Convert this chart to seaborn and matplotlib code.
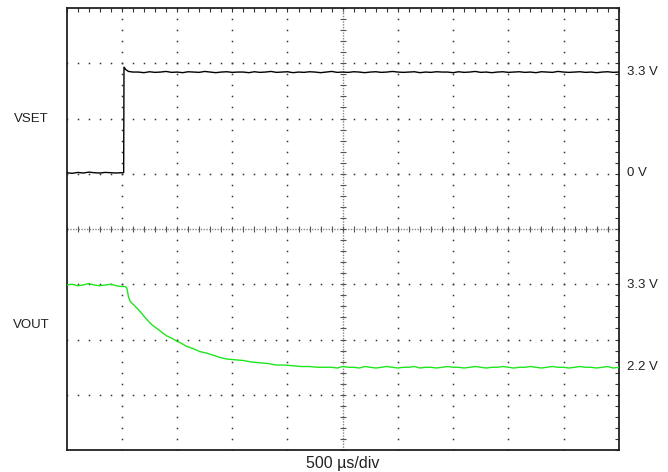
import numpy as np
import matplotlib
matplotlib.use("Agg")
import matplotlib.pyplot as plt
import matplotlib.transforms as mtransforms
import seaborn as sns

sns.set_style("white")
plt.rcParams['font.family'] = ['Liberation Sans', 'DejaVu Sans']

# --- scope capture (time in us, volts) ---
vset_t = [0, 50, 100, 150, 200, 250, 300, 350, 400, 450, 490, 516, 519, 535, 560, 600,
          650, 700, 750, 800, 850, 900, 950, 1000, 1050, 1100,
          1150, 1200, 1250, 1300, 1350, 1400, 1450, 1500, 1550, 1600,
          1650, 1700, 1750, 1800, 1850, 1900, 1950, 2000, 2050, 2100,
          2150, 2200, 2250, 2300, 2350, 2400, 2450, 2500, 2550, 2600,
          2650, 2700, 2750, 2800, 2850, 2900, 2950, 3000, 3050, 3100,
          3150, 3200, 3250, 3300, 3350, 3400, 3450, 3500, 3550, 3600,
          3650, 3700, 3750, 3800, 3850, 3900, 3950, 4000, 4050, 4100,
          4150, 4200, 4250, 4300, 4350, 4400, 4450, 4500, 4550, 4600,
          4650, 4700, 4750, 4800, 4850, 4900, 4950, 5000]
vset_v = [0.00, -0.02, 0.01, -0.01, 0.02, 0.00, -0.01, 0.01, 0.00, -0.01, 0.00, 0.00, 3.46, 3.38, 3.32, 3.30,
          3.30, 3.28, 3.31, 3.29, 3.30, 3.32, 3.29, 3.30, 3.28, 3.31,
          3.30, 3.29, 3.32, 3.30, 3.28, 3.30, 3.31, 3.29, 3.30, 3.30,
          3.28, 3.31, 3.29, 3.30, 3.32, 3.29, 3.30, 3.31, 3.28, 3.30,
          3.29, 3.31, 3.30, 3.28, 3.30, 3.32, 3.29, 3.30, 3.29, 3.31,
          3.30, 3.28, 3.30, 3.31, 3.29, 3.30, 3.32, 3.30, 3.29, 3.30,
          3.31, 3.28, 3.30, 3.29, 3.31, 3.30, 3.30, 3.28, 3.31, 3.29,
          3.30, 3.32, 3.29, 3.30, 3.28, 3.30, 3.31, 3.29, 3.30, 3.31,
          3.29, 3.30, 3.28, 3.31, 3.30, 3.29, 3.32, 3.30, 3.29, 3.30,
          3.31, 3.29, 3.30, 3.28, 3.30, 3.31, 3.29, 3.30]

vout_t = [0, 50, 100, 150, 200, 250, 300, 350, 400, 450, 490, 530, 545, 560, 575,
          610, 650, 690, 725, 770, 815, 860, 905, 950, 995, 1040, 1085, 1145, 1205,
          1265, 1330, 1390, 1450, 1525, 1600, 1675, 1750, 1825, 1900, 1975, 2050,
          2125, 2200, 2275, 2350,
          2400, 2450, 2500, 2550, 2600, 2650, 2700, 2750, 2800, 2850,
          2900, 2950, 3000, 3050, 3100, 3150, 3200, 3250, 3300, 3350,
          3400, 3450, 3500, 3550, 3600, 3650, 3700, 3750, 3800, 3850,
          3900, 3950, 4000, 4050, 4100, 4150, 4200, 4250, 4300, 4350,
          4400, 4450, 4500, 4550, 4600, 4650, 4700, 4750, 4800, 4850,
          4900, 4950, 5000]
vout_v = [3.30, 3.31, 3.29, 3.30, 3.32, 3.30, 3.29, 3.30, 3.31, 3.29, 3.28, 3.28, 3.26, 3.14, 3.08,
          3.03, 2.97, 2.90, 2.84, 2.77, 2.72, 2.67, 2.62, 2.59, 2.55, 2.52, 2.48, 2.45, 2.41,
          2.39, 2.36, 2.33, 2.31, 2.30, 2.29, 2.27, 2.26, 2.25, 2.23, 2.23, 2.22,
          2.21, 2.21, 2.20, 2.20,
          2.20, 2.19, 2.21, 2.20, 2.20, 2.19, 2.21, 2.20, 2.19, 2.20,
          2.21, 2.20, 2.19, 2.20, 2.20, 2.21, 2.19, 2.20, 2.20, 2.19,
          2.20, 2.21, 2.20, 2.20, 2.19, 2.20, 2.21, 2.20, 2.19, 2.20,
          2.20, 2.21, 2.20, 2.19, 2.20, 2.20, 2.21, 2.20, 2.19, 2.20,
          2.21, 2.20, 2.20, 2.19, 2.20, 2.21, 2.20, 2.20, 2.19, 2.20,
          2.21, 2.19, 2.20]

vset_marks = [3.3, 0.0]
vset_mark_labels = ["3.3 V", "0 V"]
vout_marks = [3.3, 2.2]
vout_mark_labels = ["3.3 V", "2.2 V"]

fig = plt.figure(figsize=(6.68, 4.72), dpi=100)
rect = [66.7 / 668, 22 / 472, 552 / 668, 442 / 472]
ax = fig.add_axes(rect)

# screen graticule: 10 x 8 divisions, 500 us/div
ax.set_xlim(0, 5000)
ax.set_ylim(0, 8)
ax.set_xticks(np.arange(0, 5001, 500))
ax.set_xticks(np.arange(0, 5001, 100), minor=True)
ax.set_yticks(np.arange(0, 9, 1))
ax.set_yticks(np.arange(0, 8.01, 0.2), minor=True)
ax.tick_params(which='both', direction='in', length=3, width=0.8, color='#333333',
               top=True, right=True, labelbottom=False, labelleft=False)
for s in ax.spines.values():
    s.set_color('#222222')
    s.set_linewidth(1.3)

minor_x = np.arange(0, 5001, 100)
minor_y = np.arange(0, 8.01, 0.2)
dot = dict(ls='none', marker='s', ms=1.1, mew=0, color='#333333')
for gx in range(500, 5000, 500):
    if gx != 2500:
        ax.plot([gx] * len(minor_y), minor_y, **dot)
for gy in range(1, 8):
    if gy != 4:
        ax.plot(minor_x, [gy] * len(minor_x), **dot)

# center cross with fine ticks
ax.axvline(2500, color='#888888', lw=1, ls=(0, (1, 1)))
ax.axhline(4, color='#888888', lw=1, ls=(0, (1, 1)))
ax.plot(minor_x, [4] * len(minor_x), ls='none', marker='|', ms=4, mew=0.8, color='#555555')
ax.plot([2500] * len(minor_y), minor_y, ls='none', marker='_', ms=4, mew=0.8, color='#555555')

ax.set_xlabel("500 \u00b5s/div", fontsize=11.5, labelpad=4, color='#222222')

# channel axes with their own volt scales
ax_set = fig.add_axes(rect, sharex=ax, facecolor='none')
ax_set.set_ylim(-9.09, 5.40)
ax_set.axis('off')
ax_out = fig.add_axes(rect, sharex=ax, facecolor='none')
ax_out.set_ylim(1.094, 7.003)
ax_out.axis('off')

sns.lineplot(x=vset_t, y=vset_v, ax=ax_set, color='#000000', lw=1, sort=False)
sns.lineplot(x=vout_t, y=vout_v, ax=ax_out, color='#1ee61e', lw=1, sort=False)
ax_set.set_xlim(0, 5000)

for a, marks, labels in [(ax_set, vset_marks, vset_mark_labels), (ax_out, vout_marks, vout_mark_labels)]:
    tr = mtransforms.blended_transform_factory(a.transAxes, a.transData)
    for m, lab in zip(marks, labels):
        a.text(1.0145, m, lab, transform=tr, ha='left', va='center', fontsize=9.5, color='#222222')

ax.text(-0.065, 0.749, "VSET", transform=ax.transAxes, ha='center', va='center', fontsize=9.5, color='#222222')
ax.text(-0.065, 0.283, "VOUT", transform=ax.transAxes, ha='center', va='center', fontsize=9.5, color='#222222')

fig.savefig("out.png", dpi=100)
